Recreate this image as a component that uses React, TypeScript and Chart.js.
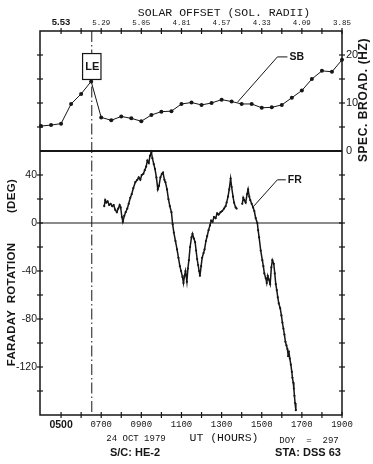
import React, { useEffect, useRef } from 'react';
import { Chart, registerables } from 'chart.js';

Chart.register(...registerables);

const INK = '#161616';
const SANS = "'Liberation Sans', Arial, sans-serif";
const MONO = "'Liberation Mono', 'DejaVu Sans Mono', monospace";

// Spectral broadening (Hz) vs UT hours
const sbHours = [4.0, 4.5, 5.0, 5.5, 6.0, 6.5, 7.0, 7.5, 8.0, 8.5, 9.0, 9.5, 10.0, 10.5, 11.0, 11.5, 12.0, 12.5, 13.0, 13.5, 14.0, 14.5, 15.0, 15.5, 16.0, 16.5, 17.0, 17.5, 18.0, 18.5, 19.0];
const sbValues = [5.2, 5.4, 5.7, 9.8, 11.9, 14.5, 7.0, 6.4, 7.2, 6.8, 6.2, 7.5, 8.2, 8.3, 9.8, 10.1, 9.6, 10.0, 10.7, 10.3, 9.8, 9.8, 9.0, 9.1, 9.6, 11.1, 12.6, 15.0, 16.7, 16.5, 19.0];

// Faraday rotation (deg) vs UT hours (null = data gap)
const frHours = [7.15, 7.2, 7.25, 7.32, 7.4, 7.47, 7.55, 7.62, 7.7, 7.78, 7.85, 7.92, 7.97, 8.03, 8.08, 8.15, 8.22, 8.3, 8.37, 8.45, 8.52, 8.6, 8.7, 8.8, 8.87, 8.95, 9.02, 9.1, 9.17, 9.24, 9.3, 9.37, 9.43, 9.5, 9.55, 9.62, 9.68, 9.75, 9.82, 9.88, 9.95, 10.02, 10.08, 10.15, 10.2, 10.28, 10.35, 10.42, 10.5, 10.56, 10.62, 10.7, 10.78, 10.85, 10.92, 10.98, 11.05, 11.1, 11.15, 11.2, 11.27, 11.32, 11.37, 11.43, 11.5, 11.55, 11.62, 11.68, 11.73, 11.78, 11.83, 11.88, 11.92, 11.98, 12.03, 12.1, 12.15, 12.22, 12.28, 12.35, 12.42, 12.48, 12.55, 12.62, 12.7, 12.78, 12.85, 12.95, 13.03, 13.12, 13.2, 13.25, 13.32, 13.38, 13.45, 13.5, 13.57, 13.62, 13.7, 13.75, 13.9, 14.03, 14.08, 14.13, 14.2, 14.27, 14.32, 14.38, 14.43, 14.5, 14.57, 14.63, 14.7, 14.78, 14.82, 14.87, 14.95, 15.03, 15.08, 15.13, 15.2, 15.25, 15.3, 15.35, 15.42, 15.48, 15.53, 15.6, 15.65, 15.7, 15.75, 15.8, 15.85, 15.92, 15.98, 16.03, 16.08, 16.13, 16.18, 16.23, 16.28, 16.32, 16.35, 16.4, 16.45, 16.5, 16.53, 16.57, 16.6, 16.63, 16.66, 16.7];
const frValues = [14, 19, 17, 18, 15, 16, 14, 15, 11, 9, 12, 15, 13, 5, 1, 6, 9, 12, 16, 21, 24, 29, 34, 36, 38, 36, 40, 41, 44, 47, 52, 50, 56, 59, 54, 49, 45, 38, 28, 31, 38, 41, 42, 36, 34, 28, 20, 14, 9, -1, -8, -15, -22, -29, -36, -40, -45, -50, -44, -40, -49, -38, -31, -20, -12, -9, -13, -16, -23, -30, -35, -40, -44, -36, -29, -25, -22, -15, -11, -6, -2, 2, 1, 5, 4, 8, 7, 9, 10, 12, 14, 17, 22, 28, 37, 30, 22, 17, 13, 12, null, 16, 21, 19, 17, 24, 28, 22, 19, 16, 13, 10, 4, 0, -6, -12, -23, -31, -36, -42, -46, -50, -44, -47, -51, -37, -31, -34, -42, -51, -56, -62, -67, -71, -77, -83, -88, -93, -99, -102, -105, -111, -107, -113, -118, -124, -129, -133, -138, -144, -150, -156];

// Axes
const hourTicks = [5, 6, 7, 8, 9, 10, 11, 12, 13, 14, 15, 16, 17, 18, 19];
const bottomTickLabels = ['0500', '0700', '0900', '1100', '1300', '1500', '1700', '1900'];
const topTickLabels = ['5.53', '5.29', '5.05', '4.81', '4.57', '4.33', '4.09', '3.85'];
const sbTickValues = [0, 5, 10, 15, 20];
const sbLabelled = [0, 10, 20];
const frTickValues = [-160, -140, -120, -100, -80, -60, -40, -20, 0, 20, 40, 60];
const frLabelled = [40, 0, -40, -80, -120];

const leHour = 6.53;

function hourLabel(v: number, labels: string[]) {
  const i = hourTicks.indexOf(v);
  return i >= 0 && i % 2 === 0 ? labels[i / 2] : '';
}

const decor = {
  id: 'decor',
  beforeDatasetsDraw(chart: any) {
    const { ctx, chartArea: { left, right, top, bottom }, scales } = chart;
    const x = scales.x, ySB = scales.ySB, yFR = scales.yFR;
    ctx.save();
    ctx.strokeStyle = INK;
    // FR zero line
    ctx.lineWidth = 1;
    const y0 = yFR.getPixelForValue(0);
    ctx.beginPath(); ctx.moveTo(left, y0); ctx.lineTo(right, y0); ctx.stroke();
    // panel divider (SB = 0)
    ctx.lineWidth = 2;
    const yd = ySB.getPixelForValue(0);
    ctx.beginPath(); ctx.moveTo(left, yd); ctx.lineTo(right, yd); ctx.stroke();
    // LE dash-dot line
    const xl = x.getPixelForValue(leHour);
    ctx.lineWidth = 1;
    ctx.setLineDash([11, 3, 1.5, 3]);
    ctx.beginPath(); ctx.moveTo(xl, top); ctx.lineTo(xl, bottom); ctx.stroke();
    ctx.setLineDash([]);
    ctx.restore();
  },
  afterDatasetsDraw(chart: any) {
    const { ctx, chartArea: { left, right, top, bottom }, scales } = chart;
    const x = scales.x, ySB = scales.ySB, yFR = scales.yFR;
    ctx.save();
    ctx.strokeStyle = INK;
    ctx.fillStyle = INK;
    // frame
    ctx.lineWidth = 1.5;
    ctx.strokeRect(left, top, right - left, bottom - top);
    // crossing tick marks
    ctx.lineWidth = 1.2;
    const seg = (a: number, b: number, c: number, d: number) => { ctx.beginPath(); ctx.moveTo(a, b); ctx.lineTo(c, d); ctx.stroke(); };
    hourTicks.forEach((h) => {
      const px = x.getPixelForValue(h);
      seg(px, bottom - 3, px, bottom + 3);
      seg(px, top - 3, px, top + 3);
    });
    sbTickValues.forEach((v) => {
      if (v === 0) return;
      const py = ySB.getPixelForValue(v);
      seg(left - 3, py, left + 3, py);
      seg(right - 3, py, right + 3, py);
    });
    frTickValues.forEach((v) => {
      if (v === 60 || v === -160) return;
      const py = yFR.getPixelForValue(v);
      seg(left - 3, py, left + 3, py);
      seg(right - 3, py, right + 3, py);
    });

    // LE box
    const xl = x.getPixelForValue(leHour);
    const bt = ySB.getPixelForValue(20.3), bb = ySB.getPixelForValue(14.9);
    ctx.fillStyle = '#ffffff';
    ctx.fillRect(xl - 9.2, bt, 18.4, bb - bt);
    ctx.lineWidth = 1.2;
    ctx.strokeRect(xl - 9.2, bt, 18.4, bb - bt);
    ctx.fillStyle = INK;
    ctx.font = `bold 11px ${SANS}`;
    ctx.textAlign = 'center';
    ctx.textBaseline = 'middle';
    ctx.fillText('LE', xl + 0.5, (bt + bb) / 2 + 0.5);

    // SB leader + label
    ctx.lineWidth = 1;
    const s0x = x.getPixelForValue(13.8), s0y = ySB.getPixelForValue(10.2);
    const s1x = x.getPixelForValue(15.78), s1y = ySB.getPixelForValue(19.6);
    const s2x = x.getPixelForValue(16.28);
    ctx.beginPath(); ctx.moveTo(s0x, s0y); ctx.lineTo(s1x, s1y); ctx.lineTo(s2x, s1y); ctx.stroke();
    ctx.textAlign = 'left';
    ctx.font = `bold 10.5px ${SANS}`;
    ctx.fillText('SB', s2x + 2, s1y + 0.5);

    // FR leader + label
    const f0x = x.getPixelForValue(14.6), f0y = yFR.getPixelForValue(14);
    const f1x = x.getPixelForValue(15.78), f1y = yFR.getPixelForValue(36);
    const f2x = x.getPixelForValue(16.2);
    ctx.beginPath(); ctx.moveTo(f0x, f0y); ctx.lineTo(f1x, f1y); ctx.lineTo(f2x, f1y); ctx.stroke();
    ctx.fillText('FR', f2x + 2, f1y + 0.5);

    // top title
    ctx.textAlign = 'center';
    ctx.font = `11.5px ${MONO}`;
    ctx.fillText('SOLAR OFFSET (SOL. RADII)', 224, 13);

    // right vertical title
    ctx.save();
    ctx.translate(364, 100);
    ctx.rotate(-Math.PI / 2);
    ctx.font = `bold 12px ${SANS}`;
    (ctx as any).letterSpacing = '0.6px';
    ctx.fillText('SPEC. BROAD. (HZ)', 0, 0);
    ctx.restore();

    // left vertical title words
    const word = (t: string, cy: number) => {
      ctx.save();
      ctx.translate(12, cy);
      ctx.rotate(-Math.PI / 2);
      ctx.font = `bold 11.5px ${SANS}`;
      (ctx as any).letterSpacing = '0.3px';
      ctx.fillText(t, 0, 0);
      ctx.restore();
    };
    word('(DEG)', 196);
    word('ROTATION', 273);
    word('FARADAY', 338);

    // footer
    ctx.font = `9px ${MONO}`;
    ctx.fillText('24 OCT 1979', 136, 439);
    ctx.fillText('DOY  =  297', 309, 441);
    ctx.font = `11.5px ${MONO}`;
    ctx.fillText('UT (HOURS)', 224, 438);
    ctx.font = `bold 11px ${SANS}`;
    ctx.fillText('S/C: HE-2', 135, 453);
    ctx.fillText('STA: DSS 63', 308, 453);
    ctx.restore();
  },
};

export default function App() {
  const ref = useRef<HTMLCanvasElement | null>(null);
  useEffect(() => {
    if (!ref.current) return;
    const sbData = sbHours.map((h, i) => ({ x: h, y: sbValues[i] }));
    const frData = frHours.map((h, i) => ({ x: h, y: frValues[i] }));
    const chart = new Chart(ref.current, {
      type: 'line',
      data: {
        datasets: [
          {
            label: 'SB',
            data: sbData as any,
            xAxisID: 'x',
            yAxisID: 'ySB',
            borderColor: INK,
            borderWidth: 1,
            pointRadius: 2,
            pointBackgroundColor: INK,
            pointBorderWidth: 0,
            tension: 0,
            clip: false as any,
          },
          {
            label: 'FR',
            data: frData as any,
            xAxisID: 'x',
            yAxisID: 'yFR',
            borderColor: INK,
            borderWidth: 1.5,
            pointRadius: 1.1,
            pointBackgroundColor: INK,
            pointBorderWidth: 0,
            tension: 0,
            spanGaps: false,
          },
        ],
      },
      options: {
        animation: false,
        responsive: false,
        layout: { padding: 0 },
        plugins: { legend: { display: false }, tooltip: { enabled: false } },
        scales: {
          x: {
            type: 'linear',
            position: 'bottom',
            min: 3.95,
            max: 19.0,
            afterBuildTicks: (s: any) => { s.ticks = hourTicks.map((v) => ({ value: v })); },
            afterFit: (s: any) => { s.height = 49; },
            grid: { display: false, drawTicks: false, tickLength: 0 },
            border: { display: false },
            ticks: {
              autoSkip: false,
              maxRotation: 0,
              padding: 4,
              color: INK,
              callback: (v: any) => hourLabel(Number(v), bottomTickLabels),
              font: (c: any) => (c.index === 0 ? { family: SANS, size: 10.5, weight: 'bold' } : { family: MONO, size: 9 }),
            },
          },
          xTop: {
            type: 'linear',
            position: 'top',
            min: 3.95,
            max: 19.0,
            afterBuildTicks: (s: any) => { s.ticks = hourTicks.map((v) => ({ value: v })); },
            afterFit: (s: any) => { s.height = 31; },
            grid: { display: false, drawTicks: false, tickLength: 0 },
            border: { display: false },
            ticks: {
              autoSkip: false,
              maxRotation: 0,
              padding: 3,
              color: INK,
              callback: (v: any) => hourLabel(Number(v), topTickLabels),
              font: (c: any) => (c.index === 0 ? { family: SANS, size: 9.5, weight: 'bold' } : { family: MONO, size: 7.5 }),
            },
          },
          yFR: {
            type: 'linear',
            position: 'left',
            min: -160,
            max: 160,
            afterBuildTicks: (s: any) => { s.ticks = frTickValues.map((v) => ({ value: v })); },
            afterFit: (s: any) => { s.width = 40; },
            grid: { display: false, drawTicks: false, tickLength: 0 },
            border: { display: false },
            ticks: {
              autoSkip: false,
              padding: 3,
              color: INK,
              font: { family: SANS, size: 10.5 },
              callback: (v: any) => (frLabelled.includes(Number(v)) ? String(v) : ''),
            },
          },
          ySB: {
            type: 'linear',
            position: 'right',
            min: -55,
            max: 25,
            afterBuildTicks: (s: any) => { s.ticks = sbTickValues.map((v) => ({ value: v })); },
            afterFit: (s: any) => { s.width = 31; },
            grid: { display: false, drawTicks: false, tickLength: 0 },
            border: { display: false },
            ticks: {
              autoSkip: false,
              padding: 4,
              color: INK,
              font: { family: SANS, size: 11 },
              callback: (v: any) => (sbLabelled.includes(Number(v)) ? String(v) : ''),
            },
          },
        },
      } as any,
      plugins: [decor],
    });
    return () => chart.destroy();
  }, []);
  return (
    <div style={{ position: 'absolute', left: 0, top: 0, width: 373, height: 464, background: '#fff' }}>
      <canvas ref={ref} width={373} height={464} style={{ display: 'block' }} />
    </div>
  );
}
